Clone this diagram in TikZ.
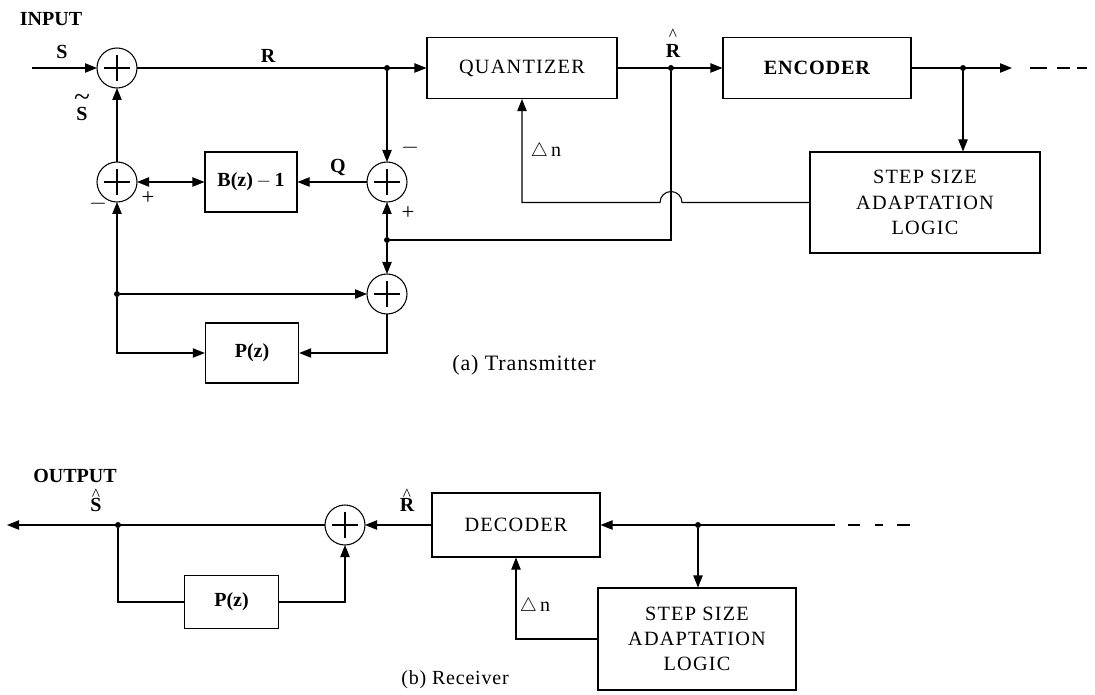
\documentclass[tikz,border=0pt]{standalone}
\usepackage{fontspec}
\setmainfont{Liberation Serif}
\usetikzlibrary{arrows.meta}
\tikzset{
  ln/.style={line width=0.8pt},
  arr/.style={ln,-{Triangle[length=9pt,width=7pt]}},
  darr/.style={ln,{Triangle[length=9pt,width=7pt]}-{Triangle[length=9pt,width=7pt]}},
  blk/.style={draw,ln,rectangle,inner sep=0pt,align=center,
    font=\fontsize{15.2}{19}\selectfont\addfontfeatures{LetterSpace=6}},
  sum/.style={draw,ln,circle,minimum size=30pt,inner sep=0pt,outer sep=0pt,
    path picture={
      \draw[ln] ([xshift=-9.5pt]path picture bounding box.center) -- ([xshift=9.5pt]path picture bounding box.center);
      \draw[ln] ([yshift=-9.5pt]path picture bounding box.center) -- ([yshift=9.5pt]path picture bounding box.center);}},
  dot/.style={circle,fill,inner sep=0pt,minimum size=4.5pt},
  lbl/.style={font=\fontsize{15}{16}\selectfont\bfseries,inner sep=0pt},
  letter/.style={lbl,text height=10pt,text depth=0pt},
  caret/.style={font=\fontsize{13}{13}\selectfont,inner sep=0pt,text height=3pt,text depth=0pt},
  tild/.style={font=\fontsize{22}{22}\selectfont,inner sep=0pt,text height=3pt,text depth=0pt},
  sgn/.style={font=\fontsize{17}{17}\selectfont,inner sep=0pt},
  captxt/.style={font=\fontsize{15}{16}\selectfont\addfontfeatures{LetterSpace=4},inner sep=0pt}
}
\begin{document}
\begin{tikzpicture}[x=0.75pt,y=-0.75pt]
\useasboundingbox (0,0) rectangle (1095,695);
% ---------- transmitter ----------
\node[sum] (A1) at (117,68) {};
\node[sum] (A2) at (117,182) {};
\node[sum] (A3) at (387,182) {};
\node[sum] (A4) at (387,294) {};
\node[blk,minimum width=142.5pt,minimum height=45.75pt] (Q) at (522,68) {QUANTIZER};
\node[blk,minimum width=141pt,minimum height=45.75pt,font=\fontsize{15.2}{19}\selectfont\bfseries\addfontfeatures{LetterSpace=4}] (E) at (817,68) {ENCODER};
\node[blk,minimum width=172.5pt,minimum height=75.75pt] (ST) at (925,202.5) {STEP SIZE\\ADAPTATION\\LOGIC};
\node[blk,minimum width=69pt,minimum height=45pt,font=\fontsize{15}{19}\selectfont\bfseries] (B) at (251,182) {B(z)\,$-$\,1};
\node[blk,minimum width=70pt,minimum height=45pt,font=\fontsize{15}{19}\selectfont\bfseries] (P) at (252,353) {P(z)};
\node[dot] (J1) at (387,68) {};
\node[dot] (J2) at (671,68) {};
\node[dot] (J3) at (963,68) {};
\node[dot] (J4) at (387,240) {};
\node[dot] (J5) at (117,294) {};
\coordinate (in) at (32,68);
\coordinate (outT) at (1012,68);
\coordinate (hopR) at (682,202.5);
\coordinate (rc) at (671,240);

\draw[arr] (in) -- (A1);
\draw[arr] (A1) -- (Q);
\draw[arr] (J1) -- (A3);
\draw[arr] (Q) -- (E);
\draw[arr] (E) -- (outT);
\draw[ln] (1030,68) -- (1047,68) (1057,68) -- (1070,68) (1077,68) -- (1087,68);
\draw[arr] (J3) -- (J3 |- ST.north);
\draw[arr] (ST.west) -- (hopR) arc[start angle=0,end angle=180,radius=8.25pt] -- (Q.south |- ST.west) -- (Q.south);
\draw[ln] (J2) -- (rc) -- (J4);
\draw[arr] (J4) -- (A3);
\draw[arr] (J4) -- (A4);
\draw[arr] (A3) -- (B);
\draw[darr] (A2) -- (B);
\draw[arr] (A2) -- (A1);
\draw[arr] (J5) -- (A2);
\draw[arr] (J5) -- (A4);
\draw[arr] (J5) |- (P);
\draw[arr] (A4) |- (P);

\node[lbl] at (51,19) {INPUT};
\node[lbl] at (62,52) {S};
\node[lbl] at (268,56) {R};
\node[tild] at (82,97) {\raisebox{-6pt}{\textasciitilde}};
\node[letter] at (82,114) {S};
\node[lbl] at (338,168) {Q};
\node[caret] at (673,31) {\raisebox{-6pt}{\textasciicircum}};
\node[letter] at (673,51) {R};
\node[sgn] at (410,148) {$-$};
\node[sgn] at (148,198) {+};
\node[sgn] at (98,204) {$-$};
\node[sgn] at (408,213) {+};
\node[captxt] at (546,152) {$\triangle$\,n};
\node[captxt,font=\fontsize{16.5}{18}\selectfont\addfontfeatures{LetterSpace=4}] at (524,365) {(a) Transmitter};
% ---------- receiver ----------
\node[sum] (B1) at (345,525) {};
\node[blk,minimum width=126pt,minimum height=48pt] (D) at (516,525) {DECODER};
\node[blk,minimum width=148.5pt,minimum height=76.5pt] (SR) at (697,639) {STEP SIZE\\ADAPTATION\\LOGIC};
\node[blk,minimum width=70pt,minimum height=40pt,font=\fontsize{15}{19}\selectfont\bfseries] (PR) at (231.5,602) {P(z)};
\node[dot] (K1) at (118,525) {};
\node[dot] (K2) at (698,525) {};
\coordinate (outL) at (7,525);
\coordinate (inR) at (835,525);

\draw[arr] (B1) -- (outL);
\draw[ln] (K1) |- (PR);
\draw[arr] (PR) -| (B1);
\draw[arr] (D) -- (B1);
\draw[arr] (inR) -- (D);
\draw[ln] (848,525) -- (860,525) (875,525) -- (883,525) (897,525) -- (910,525);
\draw[arr] (K2) -- (K2 |- SR.north);
\draw[arr] (SR.west) -| (D.south);

\node[lbl] at (75,476) {OUTPUT};
\node[caret] at (96,490) {\raisebox{-6pt}{\textasciicircum}};
\node[letter] at (96,505) {S};
\node[caret] at (407,490) {\raisebox{-6pt}{\textasciicircum}};
\node[letter] at (407,505) {R};
\node[captxt] at (535,607) {$\triangle$\,n};
\node[captxt] at (455,680) {(b) Receiver};
\end{tikzpicture}
\end{document}
